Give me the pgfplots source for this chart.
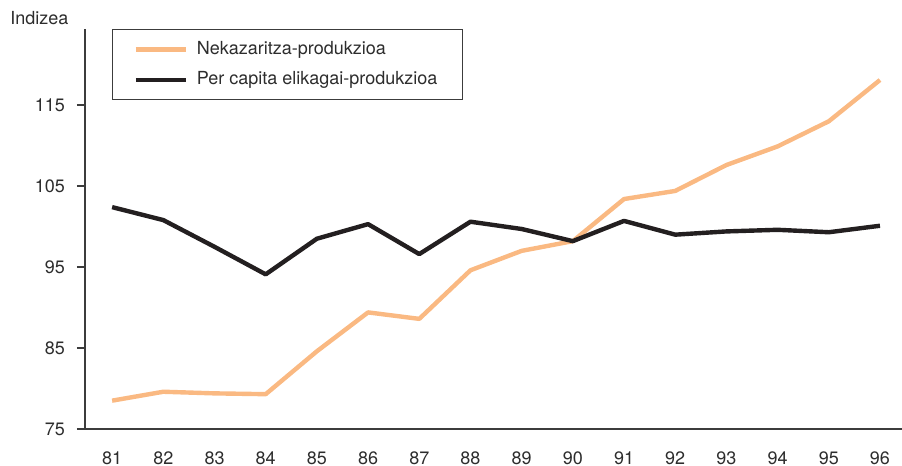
\documentclass[border=0pt]{standalone}
\usepackage{fontspec}
\setmainfont{TeX Gyre Heros}
\usepackage{pgfplots}
\pgfplotsset{compat=1.18}
\definecolor{orng}{RGB}{250,185,130}
\definecolor{blk}{RGB}{35,31,32}
\definecolor{axgray}{RGB}{60,60,60}
\definecolor{txt}{RGB}{45,45,45}
\begin{document}
\begin{tikzpicture}[font=\fontsize{9pt}{11pt}\selectfont]
\begin{axis}[
  scale only axis, width=408.5pt, height=200pt,
  xmin=80.47, xmax=96.43, ymin=75, ymax=124.4,
  axis x line=bottom, axis y line=left,
  axis line style={-, draw=axgray, line width=0.75pt},
  xtick={81,...,96}, ytick={75,85,95,105,115},
  tick align=outside, major tick length=4pt,
  x tick style={draw=none}, y tick style={draw=axgray, line width=0.75pt},
  /pgf/number format/assume math mode=true,
  tick label style={text=txt, font=\fontsize{9pt}{11pt}\selectfont},
  xticklabel style={yshift=-4pt},
  yticklabel style={xshift=-2.5pt},
  legend style={at={(0.033,1)}, anchor=north west, draw=axgray, line width=0.6pt,
    inner xsep=10.5pt, inner ysep=4pt, row sep=3pt, text=txt,
    font=\fontsize{9pt}{11pt}\selectfont},
  legend cell align=left,
  legend image code/.code={\draw[#1] (0pt,0pt) -- (25pt,0pt); \path (27.5pt,0pt);},
]
\addplot[orng, line width=2.2pt, line join=round] coordinates {
 (81,78.5) (82,79.6) (83,79.4) (84,79.3) (85,84.6) (86,89.4) (87,88.6) (88,94.6)
 (89,97.0) (90,98.2) (91,103.4) (92,104.4) (93,107.6) (94,109.9) (95,113.0) (96,118.1)};
\addlegendentry{Nekazaritza-produkzioa}
\addplot[blk, line width=2.2pt, line join=round] coordinates {
 (81,102.4) (82,100.8) (83,97.5) (84,94.1) (85,98.5) (86,100.3) (87,96.6) (88,100.6)
 (89,99.7) (90,98.2) (91,100.7) (92,99.0) (93,99.4) (94,99.6) (95,99.3) (96,100.1)};
\addlegendentry{Per capita elikagai-produkzioa}
\coordinate (bl) at (rel axis cs:0,0);
\coordinate (tr) at (rel axis cs:1,1);
\end{axis}
\node[anchor=west, inner sep=0pt, text=txt] at ([xshift=-37.5pt, yshift=5.5pt]bl |- tr) {Indizea};
\pgfresetboundingbox
\path[use as bounding box] ([xshift=-42.5pt,yshift=-18.5pt]bl) rectangle ([yshift=14.5pt]tr);
\end{tikzpicture}
\end{document}
